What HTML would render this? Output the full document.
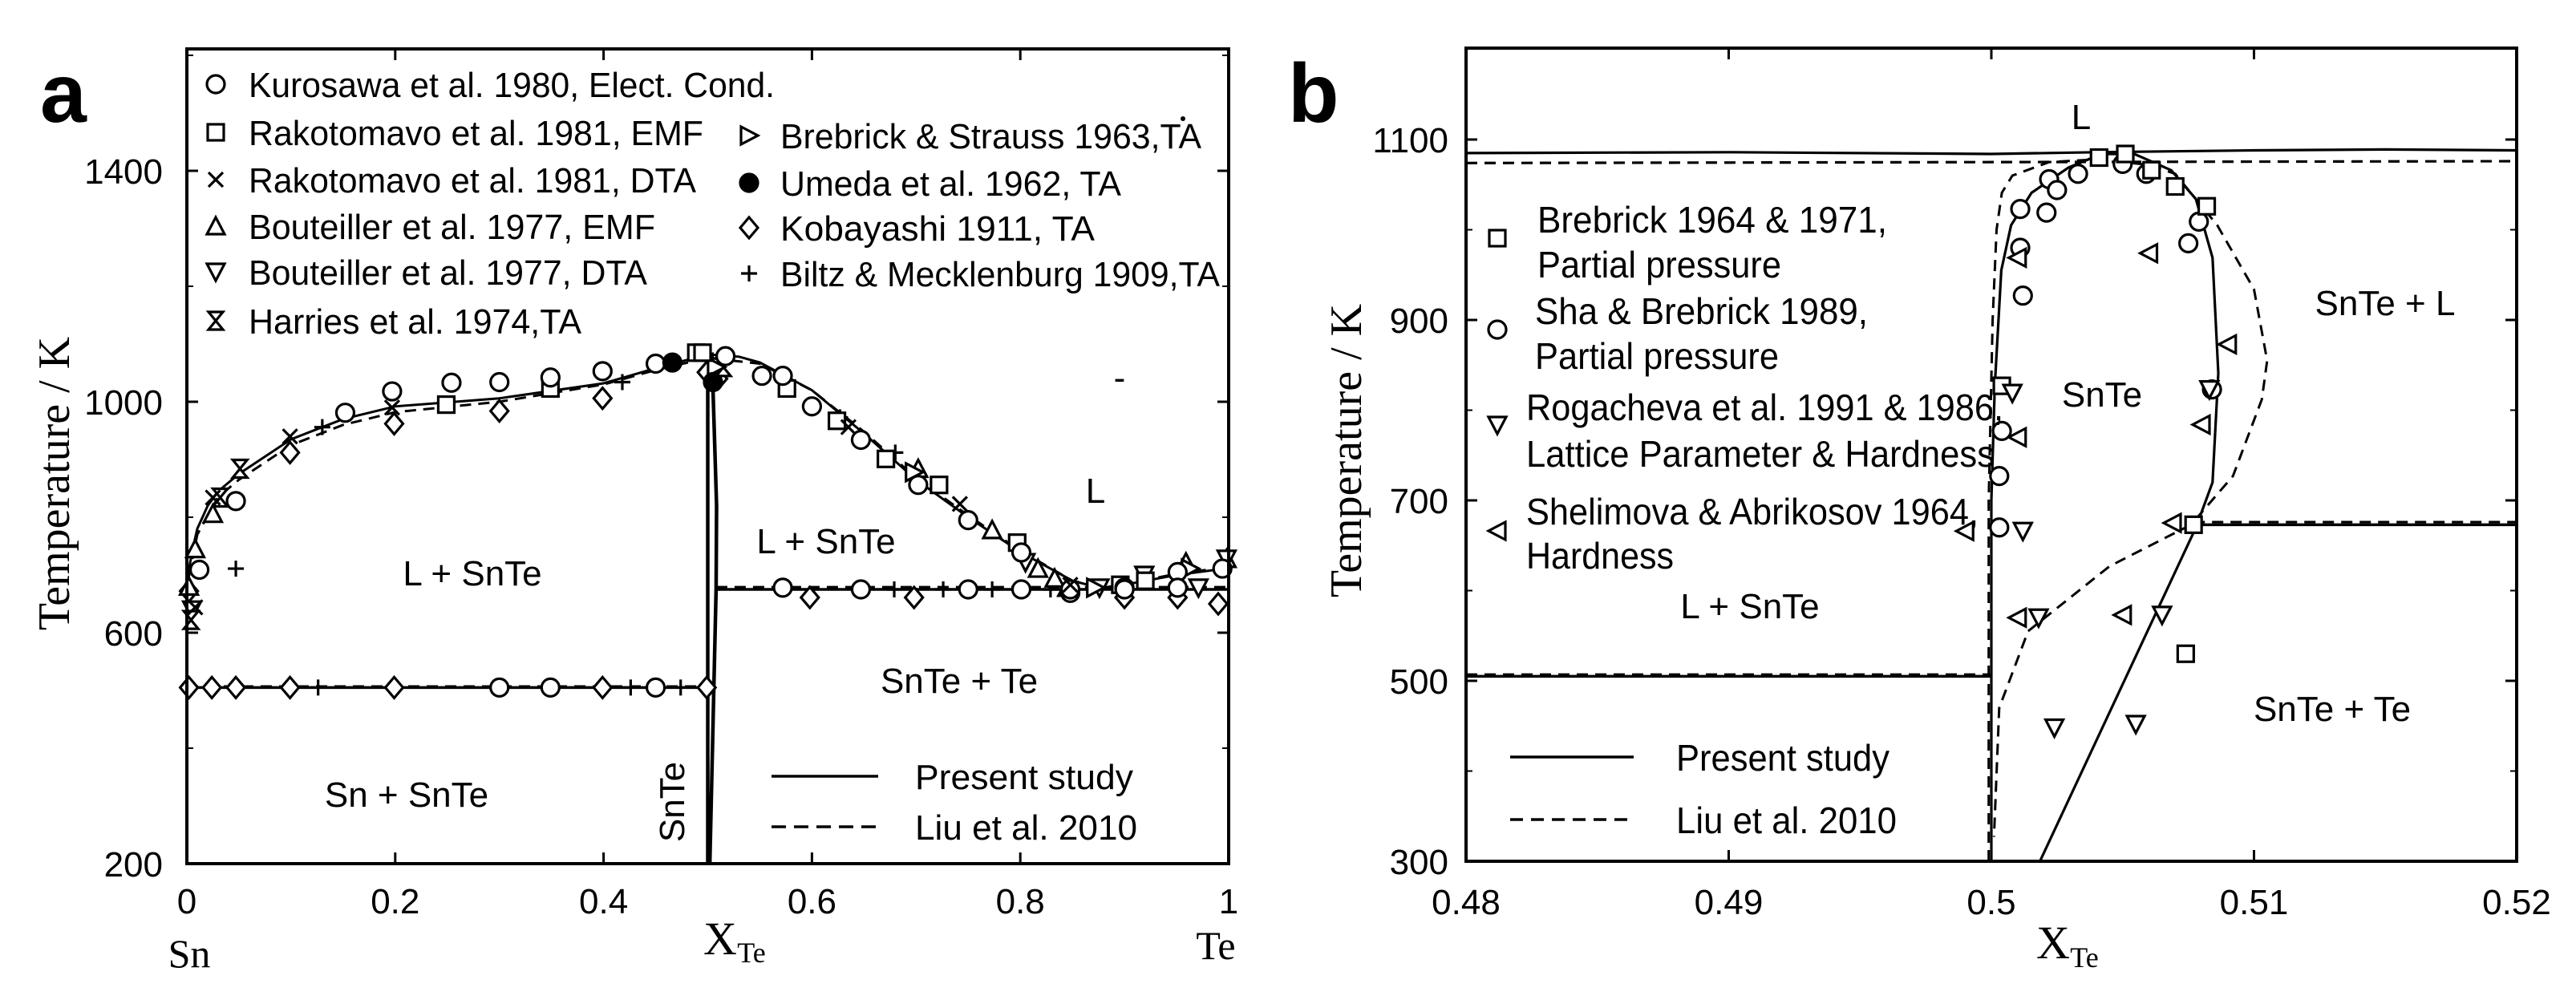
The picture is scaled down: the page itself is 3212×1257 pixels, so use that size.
<!DOCTYPE html>
<html><head><meta charset="utf-8"><style>
html,body{margin:0;padding:0;background:#fff;}
svg{display:block;}
text{font-family:"Liberation Sans",sans-serif;fill:#000;}
.serif{font-family:"Liberation Serif",serif;}
</style></head><body>
<svg id="fig" width="3212" height="1257" viewBox="0 0 3212 1257" xmlns="http://www.w3.org/2000/svg">
<g id="pa"></g>
<g id="pb"></g>
</svg>
<script>
// ---------- Panel a data ----------
const aXTicks = [0, 0.2, 0.4, 0.6, 0.8, 1];
const aXTickLabels = ["0", "0.2", "0.4", "0.6", "0.8", "1"];
const aYTicks = [200, 600, 1000, 1400];
const aYMinor = [400, 800, 1200, 1600];
const aLiqSolidX = [0,0,0.005,0.01,0.02,0.03,0.05,0.1,0.15,0.2,0.3,0.4,0.45,0.5,0.53,0.55,0.6,0.65,0.7,0.75,0.8,0.85,0.88,0.9,0.95,1];
const aLiqSolidT = [505,690,740,780,820,845,875,935,970,992,1006,1032,1058,1082,1078,1068,1020,945,865,800,740,690,676,683,700,712];
const aLiqDashX = [0,0,0.01,0.03,0.05,0.1,0.15,0.2,0.3,0.4,0.45,0.5,0.55,0.6,0.65,0.7,0.75,0.8,0.85,0.88,0.9,0.95,1];
const aLiqDashT = [505,680,770,835,865,925,960,982,1000,1030,1055,1076,1066,1020,948,868,803,742,690,678,684,702,714];
const aSnTeX = [0.5,0.5,0.504,0.5085,0.508,0.502];
const aSnTeT = [200,1080,1082,820,675,200];
const aEut1X = [0,0.5], aEut1T = [505,505];
const aEut2X = [0.508,1], aEut2T = [675,675];
const aCircX = [0.012,0.047,0.152,0.197,0.254,0.300,0.349,0.399,0.450,0.517,0.552,0.572,0.600,0.647,0.702,0.750,0.801,0.848,0.900,0.951,0.994,0.300,0.349,0.450,0.572,0.647,0.750,0.801,0.848,0.900,0.951];
const aCircT = [709,828,981,1018,1033,1034,1042,1053,1066,1079,1045,1045,992,934,856,795,739,669,678,705,711,505,505,505,678,675,675,675,675,675,678];
const aSqX = [0.249,0.349,0.489,0.495,0.576,0.624,0.671,0.722,0.797,0.896,0.92];
const aSqT = [995,1023,1085,1085,1023,967,901,856,756,683,690];
const aXmX = [0.025,0.008,0.099,0.197,0.635,0.742,0.848];
const aXmT = [834,644,940,990,956,823,683];
const aTriUpX = [0.008,0.025,0.702,0.773,0.817,0.833,0.845,0.959,0.998,0.002];
const aTriUpT = [745,806,884,778,711,694,678,722,728,680];
const aTriDnX = [0.876,0.919,0.971,0.998,0.805,0.005];
const aTriDnT = [678,700,678,728,722,640];
const aHourX = [0.004,0.032,0.051,0.515];
const aHourT = [622,834,884,1060];
const aTriRX = [0.698,0.872,0.963,0.508];
const aTriRT = [878,678,711,1060];
const aFillX = [0.466,0.505];
const aFillT = [1068,1034];
const aDiaX = [0.002,0.024,0.047,0.099,0.199,0.399,0.499,0.099,0.199,0.300,0.399,0.499,0.598,0.698,0.900,0.951,0.990,0.002,0.510];
const aDiaT = [505,505,505,505,505,505,505,912,962,984,1006,1051,661,661,661,661,650,672,1040];
const aPlusX = [0.047,0.126,0.347,0.426,0.474,0.679,0.726,0.773,0.829,0.130,0.418,0.627,0.680];
const aPlusT = [711,505,505,505,505,675,675,675,675,956,1034,973,912];

// ---------- Panel b data ----------
const bXTicks = [0.48, 0.49, 0.5, 0.51, 0.52];
const bXTickLabels = ["0.48", "0.49", "0.5", "0.51", "0.52"];
const bYTicks = [300, 500, 700, 900, 1100];
const bYMinor = [400, 600, 800, 1000, 1200];
const bLiqSolidX = [0.48,0.49,0.5,0.504,0.51,0.515,0.52];
const bLiqSolidT = [1085,1086,1084,1086,1088,1089,1088];
const bLiqDashX = [0.48,0.52];
const bLiqDashT = [1074,1076];
const bEut1X = [0.48,0.5], bEut1T = [505,505];
const bEut2X = [0.5077,0.52], bEut2T = [673,673];
const bEut2DX = [0.5077,0.52], bEut2DT = [676,676];
const bSolidusX = [0.5,0.5,0.50013,0.50038,0.50075,0.50153,0.50294,0.50419,0.50544,0.50685,0.50779,0.50842,0.50864,0.50842,0.50779,0.50185];
const bSolidusT = [300,700,827,955,1005,1041,1069,1084,1084,1066,1034,969,841,720,670,300];
const bDashSolX = [0.4999,0.4999,0.50005,0.5002,0.5004,0.5008,0.5022,0.504,0.506,0.507,0.5086,0.5100,0.5105,0.5103,0.5092,0.5076,0.5045,0.5014,0.5003,0.5001];
const bDashSolT = [300,700,900,1000,1041,1060,1075,1078,1072,1062,1005,934,855,812,727,673,627,555,470,327];
const bSqX = [0.5004,0.5041,0.5051,0.5061,0.5070,0.5082,0.5077,0.5074];
const bSqT = [827,1080,1084,1066,1048,1026,673,530];
const bCircX = [0.5022,0.5025,0.5033,0.5011,0.5021,0.5011,0.5012,0.5004,0.5003,0.5003,0.5050,0.5059,0.5079,0.5075,0.5084];
const bCircT = [1056,1044,1062,1023,1019,980,927,777,727,670,1073,1062,1009,985,823];
const bTriDnX = [0.5008,0.5012,0.5018,0.5024,0.5055,0.5065,0.5083];
const bTriDnT = [819,666,570,448,452,573,823];
const bTriLX = [0.5010,0.5010,0.4990,0.5010,0.5050,0.5060,0.5090,0.5080,0.5069];
const bTriLT = [969,770,666,570,573,974,873,784,675];

const NS = "http://www.w3.org/2000/svg";
const pa = document.getElementById('pa');
const pb = document.getElementById('pb');

const A = {x0:233, x1:1532, y0:61, y1:1077};
function axX(v){ return A.x0 + (v-0)/(1-0)*(A.x1-A.x0); }
function axY(t){ return 1077 - (t-200)*0.72; }
const B = {x0:1828, x1:3138, y0:60, y1:1074};
function bxX(v){ return B.x0 + (v-0.48)/0.04*(B.x1-B.x0); }
function bxY(t){ return 1074 - (t-300)*1.125; }

function mk(tag, attrs, parent){
  const el = document.createElementNS(NS, tag);
  for (const k in attrs) el.setAttribute(k, attrs[k]);
  parent.appendChild(el);
  return el;
}
function txt(parent, s, x, y, size, anchor, cls){
  const t = mk('text', {x:x, y:y, 'font-size':size, 'text-anchor':anchor||'start'}, parent);
  if (cls) t.setAttribute('class', cls);
  t.textContent = s;
  return t;
}
function pathFrom(xs, ts, fx, fy){
  let d = '';
  for (let i=0;i<xs.length;i++){ d += (i?'L':'M') + fx(xs[i]).toFixed(1) + ',' + fy(ts[i]).toFixed(1); }
  return d;
}
function curve(parent, xs, ts, fx, fy, dashed, w){
  const p = mk('path', {d:pathFrom(xs,ts,fx,fy), fill:'none', stroke:'#000', 'stroke-width':w||3.2}, parent);
  if (dashed) p.setAttribute('stroke-dasharray','14,9');
  return p;
}
function marker(parent, type, cx, cy){
  const r = 11, sw = 3.2;
  let el;
  if (type==='circle' || type==='fill'){
    el = mk('circle', {cx:cx, cy:cy, r:r, fill: type==='fill'?'#000':'#fff', stroke:'#000', 'stroke-width':sw}, parent);
  } else if (type==='square'){
    el = mk('rect', {x:cx-r+1, y:cy-r+1, width:2*r-2, height:2*r-2, fill:'#fff', stroke:'#000', 'stroke-width':sw}, parent);
  } else if (type==='diamond'){
    el = mk('polygon', {points:`${cx},${cy-r-2} ${cx+r},${cy} ${cx},${cy+r+2} ${cx-r},${cy}`, fill:'#fff', stroke:'#000', 'stroke-width':sw}, parent);
  } else if (type==='triUp'){
    el = mk('polygon', {points:`${cx},${cy-r} ${cx+r},${cy+r-1} ${cx-r},${cy+r-1}`, fill:'#fff', stroke:'#000', 'stroke-width':sw}, parent);
  } else if (type==='triDn'){
    el = mk('polygon', {points:`${cx},${cy+r} ${cx+r},${cy-r+1} ${cx-r},${cy-r+1}`, fill:'#fff', stroke:'#000', 'stroke-width':sw}, parent);
  } else if (type==='triR'){
    el = mk('polygon', {points:`${cx+r},${cy} ${cx-r+1},${cy-r} ${cx-r+1},${cy+r}`, fill:'#fff', stroke:'#000', 'stroke-width':sw}, parent);
  } else if (type==='triL'){
    el = mk('polygon', {points:`${cx-r},${cy} ${cx+r-1},${cy-r} ${cx+r-1},${cy+r}`, fill:'#fff', stroke:'#000', 'stroke-width':sw}, parent);
  } else if (type==='x'){
    el = mk('path', {d:`M${cx-9},${cy-9}L${cx+9},${cy+9}M${cx+9},${cy-9}L${cx-9},${cy+9}`, stroke:'#000', 'stroke-width':sw, fill:'none'}, parent);
  } else if (type==='plus'){
    el = mk('path', {d:`M${cx-10},${cy}L${cx+10},${cy}M${cx},${cy-10}L${cx},${cy+10}`, stroke:'#000', 'stroke-width':sw, fill:'none'}, parent);
  } else if (type==='hour'){
    el = mk('path', {d:`M${cx-9},${cy-11}L${cx+9},${cy-11}L${cx-9},${cy+11}L${cx+9},${cy+11}Z`, stroke:'#000', 'stroke-width':sw, fill:'#fff'}, parent);
  }
  return el;
}
function series(parent, type, xs, ts, fx, fy, name){
  const g = mk('g', {}, parent);
  
  
  for (let i=0;i<xs.length;i++){
    const m = marker(g, type, fx(xs[i]), fy(ts[i]));
    
    
  }
}

// ================= PANEL A =================
(function(){
  const g = pa;
  const lab = txt(g, 'a', 50, 152, 104, 'start');
  lab.setAttribute('font-weight','bold');
  
  

  const plot = mk('g', {}, g);
  
  

  // curves
  let c;
  c = curve(plot, aEut1X, aEut1T, axX, axY, false, 3.5);
  
  
  c = curve(plot, aEut1X, aEut1T.map(v=>v+2), axX, axY, true, 3);
  
  
  c = curve(plot, aEut2X, aEut2T, axX, axY, false, 3.5);
  
  
  c = curve(plot, aEut2X, aEut2T.map(v=>v+4), axX, axY, true, 3);
  
  
  c = curve(plot, aSnTeX, aSnTeT, axX, axY, false, 4.5);
  
  
  c = curve(plot, aLiqDashX, aLiqDashT, axX, axY, true, 3);
  
  
  c = curve(plot, aLiqSolidX, aLiqSolidT, axX, axY, false, 3);
  
  

  // markers
  series(plot, 'plus', aPlusX, aPlusT, axX, axY, 'biltz-1909-points');
  series(plot, 'diamond', aDiaX, aDiaT, axX, axY, 'kobayashi-1911-points');
  series(plot, 'triUp', aTriUpX, aTriUpT, axX, axY, 'bouteiller-emf-points');
  series(plot, 'triDn', aTriDnX, aTriDnT, axX, axY, 'bouteiller-dta-points');
  series(plot, 'hour', aHourX, aHourT, axX, axY, 'harries-1974-points');
  series(plot, 'triR', aTriRX, aTriRT, axX, axY, 'brebrick-strauss-points');
  series(plot, 'square', aSqX, aSqT, axX, axY, 'rakotomavo-emf-points');
  series(plot, 'circle', aCircX, aCircT, axX, axY, 'kurosawa-points');
  series(plot, 'x', aXmX, aXmT, axX, axY, 'rakotomavo-dta-points');
  series(plot, 'fill', aFillX, aFillT, axX, axY, 'umeda-points');

  // frame
  const fr = mk('rect', {x:A.x0, y:A.y0, width:A.x1-A.x0, height:A.y1-A.y0, fill:'none', stroke:'#000', 'stroke-width':4}, g);
  
  

  // ticks
  const tk = mk('g', {}, g);
  
  
  aXTicks.forEach((v,i)=>{
    const x = axX(v);
    mk('path', {d:`M${x},${A.y1}L${x},${A.y1-14}M${x},${A.y0}L${x},${A.y0+14}`, stroke:'#000', 'stroke-width':3}, tk);
    const t = txt(tk, aXTickLabels[i], x, 1139, 44, 'middle');
    
    
  });
  aYTicks.forEach(v=>{
    const y = axY(v);
    mk('path', {d:`M${A.x0},${y}L${A.x0+14},${y}M${A.x1},${y}L${A.x1-14},${y}`, stroke:'#000', 'stroke-width':3}, tk);
    const t = txt(tk, String(v), 203, y+16, 44, 'end');
    
    
  });
  aYMinor.forEach(v=>{
    const y = axY(v);
    if (y > A.y0) mk('path', {d:`M${A.x0},${y}L${A.x0+8},${y}M${A.x1},${y}L${A.x1-8},${y}`, stroke:'#000', 'stroke-width':2}, tk);
  });

  // axis titles
  let t = txt(g, 'Temperature / K', 0, 0, 56, 'middle', 'serif');
  t.setAttribute('transform','translate(86,603) rotate(-90)');
  
  
  t = txt(g, 'X', 898, 1190, 58, 'middle', 'serif');
  
  
  t = txt(g, 'Te', 937, 1200, 36, 'middle', 'serif');
  
  
  t = txt(g, 'Sn', 236, 1206, 50, 'middle', 'serif');
  
  
  t = txt(g, 'Te', 1516, 1196, 50, 'middle', 'serif');
  
  

  // region labels
  const regions = [['L + SnTe',589,730],['L + SnTe',1030,690],['L',1366,627],['-',1396,486],['SnTe + Te',1196,864],['Sn + SnTe',507,1006]];
  regions.forEach(r=>{
    const e = txt(g, r[0], r[1], r[2], 44, 'middle');
    
    
  });
  t = txt(g, 'SnTe', 0, 0, 44, 'middle');
  t.setAttribute('transform','translate(853,1000) rotate(-90)');
  
  

  // legend
  const lg = mk('g', {}, g);
  
  
  const L1 = [['circle','Kurosawa et al. 1980, Elect. Cond.',105,656],['square','Rakotomavo et al. 1981, EMF',165,567],['x','Rakotomavo et al. 1981, DTA',224,558],['triUp','Bouteiller et al. 1977, EMF',282,507],['triDn','Bouteiller et al. 1977, DTA',339,497],['hour','Harries et al. 1974,TA',400,415]];
  L1.forEach(e=>{
    const m = marker(lg, e[0], 269, e[2]);
    
    
    const tt = txt(lg, e[1], 310, e[2]+16, 44, 'start');
    tt.setAttribute('textLength', e[3]);
    tt.setAttribute('lengthAdjust','spacingAndGlyphs');
    
    
  });
  const L2 = [['triR','Brebrick & Strauss 1963,TA',169,525],['fill','Umeda et al. 1962, TA',228,425],['diamond','Kobayashi 1911, TA',284,392],['plus','Biltz & Mecklenburg 1909,TA',341,548]];
  L2.forEach(e=>{
    const m = marker(lg, e[0], 934, e[2]);
    
    
    const tt = txt(lg, e[1], 973, e[2]+16, 44, 'start');
    tt.setAttribute('textLength', e[3]);
    tt.setAttribute('lengthAdjust','spacingAndGlyphs');
    
    
  });
  mk('circle', {cx:1475, cy:148, r:3, fill:'#000'}, lg);
  mk('path', {d:'M962,968L1095,968', stroke:'#000', 'stroke-width':3.5}, lg);
  t = txt(lg, 'Present study', 1141, 984, 44, 'start');
  t.setAttribute('textLength', 272);
  t.setAttribute('lengthAdjust','spacingAndGlyphs');
  
  
  mk('path', {d:'M962,1031L1100,1031', stroke:'#000', 'stroke-width':3.5, 'stroke-dasharray':'18,10'}, lg);
  t = txt(lg, 'Liu et al. 2010', 1141, 1047, 44, 'start');
  t.setAttribute('textLength', 277);
  t.setAttribute('lengthAdjust','spacingAndGlyphs');
  
  
})();

// ================= PANEL B =================
(function(){
  const g = pb;
  const lab = txt(g, 'b', 1606, 152, 104, 'start');
  lab.setAttribute('font-weight','bold');
  
  

  const cp = mk('clipPath', {id:'clipb'}, g);
  mk('rect', {x:B.x0, y:B.y0, width:B.x1-B.x0, height:B.y1-B.y0}, cp);
  const plot = mk('g', {'clip-path':'url(#clipb)'}, g);
  
  

  let c;
  c = curve(plot, bLiqSolidX, bLiqSolidT, bxX, bxY, false, 3.2);
  
  
  c = curve(plot, bLiqDashX, bLiqDashT, bxX, bxY, true, 3.2);
  
  
  c = curve(plot, bEut1X, bEut1T, bxX, bxY, false, 3.5);
  
  
  c = curve(plot, bEut1X, bEut1T.map(v=>v+2), bxX, bxY, true, 3);
  
  
  c = curve(plot, bEut2X, bEut2T, bxX, bxY, false, 3.5);
  
  
  c = curve(plot, bEut2DX, bEut2DT, bxX, bxY, true, 3);
  
  
  c = curve(plot, bDashSolX, bDashSolT, bxX, bxY, true, 3);
  
  
  c = curve(plot, bSolidusX, bSolidusT, bxX, bxY, false, 3.2);
  
  

  series(plot, 'circle', bCircX, bCircT, bxX, bxY, 'sha-brebrick-points');
  series(plot, 'square', bSqX, bSqT, bxX, bxY, 'brebrick-points');
  series(plot, 'triDn', bTriDnX, bTriDnT, bxX, bxY, 'rogacheva-points');
  series(plot, 'triL', bTriLX, bTriLT, bxX, bxY, 'shelimova-points');

  const fr = mk('rect', {x:B.x0, y:B.y0, width:B.x1-B.x0, height:B.y1-B.y0, fill:'none', stroke:'#000', 'stroke-width':4}, g);
  
  

  const tk = mk('g', {}, g);
  
  
  bXTicks.forEach((v,i)=>{
    const x = bxX(v);
    mk('path', {d:`M${x},${B.y1}L${x},${B.y1-14}M${x},${B.y0}L${x},${B.y0+14}`, stroke:'#000', 'stroke-width':3}, tk);
    const t = txt(tk, bXTickLabels[i], x, 1140, 44, 'middle');
    
    
  });
  bYTicks.forEach(v=>{
    const y = bxY(v);
    mk('path', {d:`M${B.x0},${y}L${B.x0+14},${y}M${B.x1},${y}L${B.x1-14},${y}`, stroke:'#000', 'stroke-width':3}, tk);
    const t = txt(tk, String(v), 1806, y+16, 44, 'end');
    
    
  });
  bYMinor.forEach(v=>{
    const y = bxY(v);
    if (y > B.y0+2) mk('path', {d:`M${B.x0},${y}L${B.x0+8},${y}M${B.x1},${y}L${B.x1-8},${y}`, stroke:'#000', 'stroke-width':2}, tk);
  });

  let t = txt(g, 'Temperature / K', 0, 0, 56, 'middle', 'serif');
  t.setAttribute('transform','translate(1697,562) rotate(-90)');
  
  
  t = txt(g, 'X', 2560, 1195, 58, 'middle', 'serif');
  
  
  t = txt(g, 'Te', 2599, 1206, 36, 'middle', 'serif');
  
  

  const regions = [['L',2595,161],['SnTe + L',2974,393],['SnTe',2621,507],['L + SnTe',2182,771],['SnTe + Te',2908,899]];
  regions.forEach(r=>{
    const e = txt(g, r[0], r[1], r[2], 44, 'middle');
    
    
  });

  const lg = mk('g', {}, g);
  
  
  const L = [['square',297,[['Brebrick 1964 & 1971,',1917,273,436],['Partial pressure',1917,329,304]]],
             ['circle',411,[['Sha & Brebrick 1989,',1914,387,415],['Partial pressure',1914,443,304]]],
             ['triDn',530,[['Rogacheva et al. 1991 & 1986,',1903,507,595],['Lattice Parameter & Hardness',1903,565,584]]],
             ['triL',662,[['Shelimova & Abrikosov 1964,',1903,637,564],['Hardness',1903,692,184]]]];
  L.forEach(e=>{
    const m = marker(lg, e[0], 1867, e[1]);
    
    
    e[2].forEach(s=>{
      const tt = txt(lg, s[0], s[1], s[2]+17, 46, 'start');
      tt.setAttribute('textLength', s[3]);
      tt.setAttribute('lengthAdjust','spacingAndGlyphs');
      
      
    });
  });
  mk('path', {d:'M1883,944L2037,944', stroke:'#000', 'stroke-width':3.5}, lg);
  t = txt(lg, 'Present study', 2090, 961, 46, 'start');
  t.setAttribute('textLength', 266);
  t.setAttribute('lengthAdjust','spacingAndGlyphs');
  
  
  mk('path', {d:'M1883,1022L2037,1022', stroke:'#000', 'stroke-width':3.5, 'stroke-dasharray':'16,10'}, lg);
  t = txt(lg, 'Liu et al. 2010', 2090, 1039, 46, 'start');
  t.setAttribute('textLength', 275);
  t.setAttribute('lengthAdjust','spacingAndGlyphs');
  
  
})();
</script>
</body></html>
